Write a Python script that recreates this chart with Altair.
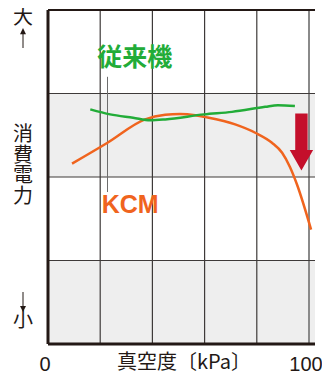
import altair as alt
import pandas as pd

# ---------------- data ----------------
x_tick_values = [0, 100]
x_grid = [20, 40, 60, 80]
x_grid_light = [100]
y_grid = [1, 2, 3]
band_from = [0, 2]
band_to = [1, 3]
X_MAX = 102.3
Y_MAX = 4

green_x = [16.2, 23.8, 32.6, 39.2, 44.9, 59.8, 70.5, 83.2, 88.1, 94.6]
green_y = [2.81, 2.75, 2.71, 2.68, 2.69, 2.75, 2.78, 2.84, 2.86, 2.85]
orange_x = [9.2, 22.8, 37.2, 44.9, 50.6, 56.4, 59.8, 71.7, 79.4, 85.8, 89.7, 92.7, 95.4, 100.8]
orange_y = [2.16, 2.41, 2.69, 2.745, 2.755, 2.74, 2.72, 2.63, 2.53, 2.41, 2.29, 2.12, 1.91, 1.37]

arrow_x = [97.1]
arrow_y = [2.42]
pointer_x = [22.8]
pointer_from = [1.82]
pointer_to = [3.20]

label_green = ["従来機"]
label_green_x = [33.2]
label_green_y = [3.43]
label_orange = ["KCM"]
label_orange_x = [31.5]
label_orange_y = [1.57]

x_title = "真空度〔kPa〕"
y_title = ["消", "費", "電", "力"]
y_high = "大"
y_low = "小"

# ---------------- styling ----------------
INK = "#231815"
GRID = "#3e3a39"
GREEN = "#22ac38"
ORANGE = "#f0641e"
RED = "#c40f2b"
BAND = "#eeeeee"
JP = "Noto Sans CJK JP"
W, H = 267, 334

xs = alt.Scale(domain=[0, X_MAX], nice=False, zero=False)
ys = alt.Scale(domain=[0, Y_MAX], nice=False, zero=False)

one = pd.DataFrame({"k": [0]})

bands = alt.Chart(pd.DataFrame({"y0": band_from, "y1": band_to, "x0": 0, "x1": X_MAX})).mark_rect(
    color=BAND).encode(
    x=alt.X("x0:Q", scale=xs, axis=None), x2="x1:Q",
    y=alt.Y("y0:Q", scale=ys, axis=None), y2="y1:Q")

vgrid = alt.Chart(pd.DataFrame({"x": x_grid, "y0": 0, "y1": Y_MAX})).mark_rule(
    color=GRID, strokeWidth=1.2).encode(
    x=alt.X("x:Q", scale=xs, axis=None), y=alt.Y("y0:Q", scale=ys, axis=None), y2="y1:Q")

vgrid_light = alt.Chart(pd.DataFrame({"x": x_grid_light, "y0": 0, "y1": Y_MAX})).mark_rule(
    color="#8a8a8a", strokeWidth=2).encode(
    x=alt.X("x:Q", scale=xs, axis=None), y=alt.Y("y0:Q", scale=ys, axis=None), y2="y1:Q")

hgrid = alt.Chart(pd.DataFrame({"y": y_grid, "x0": 0, "x1": X_MAX})).mark_rule(
    color=GRID, strokeWidth=1.2).encode(
    y=alt.Y("y:Q", scale=ys, axis=None), x=alt.X("x0:Q", scale=xs, axis=None), x2="x1:Q")

border_h = alt.Chart(pd.DataFrame({"y": [0, Y_MAX], "x0": 0, "x1": X_MAX, "w": [3, 2]})).mark_rule(
    color=INK).encode(
    y=alt.Y("y:Q", scale=ys, axis=None), x=alt.X("x0:Q", scale=xs, axis=None), x2="x1:Q",
    strokeWidth=alt.StrokeWidth("w:Q", scale=None, legend=None))

border_v = alt.Chart(pd.DataFrame({"x": [0], "y0": 0, "y1": Y_MAX})).mark_rule(
    color=INK, strokeWidth=3).encode(
    x=alt.X("x:Q", scale=xs, axis=None), y=alt.Y("y0:Q", scale=ys, axis=None), y2="y1:Q")

pointer = alt.Chart(pd.DataFrame({"x": pointer_x, "y0": pointer_from, "y1": pointer_to})).mark_rule(
    color="#6d6d6d", strokeWidth=1).encode(
    x=alt.X("x:Q", scale=xs, axis=None), y=alt.Y("y0:Q", scale=ys, axis=None), y2="y1:Q")

orange = alt.Chart(pd.DataFrame({"x": orange_x, "y": orange_y})).mark_line(
    color=ORANGE, strokeWidth=2.5, interpolate="monotone").encode(
    x=alt.X("x:Q", scale=xs, axis=None), y=alt.Y("y:Q", scale=ys, axis=None))

green = alt.Chart(pd.DataFrame({"x": green_x, "y": green_y})).mark_line(
    color=GREEN, strokeWidth=2.5, interpolate="monotone").encode(
    x=alt.X("x:Q", scale=xs, axis=None), y=alt.Y("y:Q", scale=ys, axis=None))

ARROW_PATH = "M-0.53,-2.44L0.53,-2.44L0.53,0.68L1,0.68L0,2.44L-1,0.68L-0.53,0.68Z"
red_arrow = alt.Chart(pd.DataFrame({"x": arrow_x, "y": arrow_y})).mark_point(
    shape=ARROW_PATH, size=547, filled=True, color=RED, opacity=1, strokeWidth=0).encode(
    x=alt.X("x:Q", scale=xs, axis=None), y=alt.Y("y:Q", scale=ys, axis=None))

t_green = alt.Chart(pd.DataFrame({"t": label_green, "x": label_green_x, "y": label_green_y})).mark_text(
    font=JP, fontSize=25, fontWeight="bold", color=GREEN, baseline="middle", align="center").encode(
    x=alt.X("x:Q", scale=xs, axis=None), y=alt.Y("y:Q", scale=ys, axis=None), text="t:N")

t_orange = alt.Chart(pd.DataFrame({"t": label_orange, "x": label_orange_x, "y": label_orange_y})).mark_text(
    font="Liberation Sans", fontSize=25, fontWeight="bold", color=ORANGE, baseline="alphabetic",
    align="center").encode(
    x=alt.X("x:Q", scale=xs, axis=None), y=alt.Y("y:Q", scale=ys, axis=None), text="t:N")

# x tick labels, placed through the x scale
t_ticks = alt.Chart(pd.DataFrame({"v": x_tick_values})).mark_text(
    font="Liberation Sans", fontSize=20, color=INK, baseline="alphabetic", align="center",
    dx=-3).encode(
    x=alt.X("v:Q", scale=xs, axis=None), y=alt.value(361), text=alt.Text("v:Q", format="d"))

# outside-plot annotations (pixel positions relative to plot origin)
LX = -25
t_high = alt.Chart(one).mark_text(text=y_high, font=JP, fontSize=20, color=INK,
                                  baseline="middle", align="center").encode(
    x=alt.value(LX), y=alt.value(8))
t_low = alt.Chart(one).mark_text(text=y_low, font=JP, fontSize=20, color=INK,
                                 baseline="middle", align="center").encode(
    x=alt.value(LX), y=alt.value(311))
t_ytitle = alt.Chart(one).mark_text(text=y_title, font=JP, fontSize=20, lineHeight=20.5, color=INK,
                                    baseline="middle", align="center").encode(
    x=alt.value(LX), y=alt.value(125))
t_xtitle = alt.Chart(one).mark_text(text=x_title, font=JP, fontSize=20, color=INK,
                                    baseline="alphabetic", align="center").encode(
    x=alt.value(136), y=alt.value(359))

up_shaft = alt.Chart(one).mark_rule(color=INK, strokeWidth=1).encode(
    x=alt.value(LX), y=alt.value(20), y2=alt.value(38))
up_head = alt.Chart(one).mark_point(shape="M0,-1L0.85,0.75L-0.85,0.75Z", size=49, filled=True,
                                    color=INK, opacity=1, strokeWidth=0).encode(
    x=alt.value(LX), y=alt.value(21.5))
down_shaft = alt.Chart(one).mark_rule(color=INK, strokeWidth=1).encode(
    x=alt.value(LX), y=alt.value(282), y2=alt.value(300))
down_head = alt.Chart(one).mark_point(shape="M0,1L0.85,-0.75L-0.85,-0.75Z", size=49, filled=True,
                                      color=INK, opacity=1, strokeWidth=0).encode(
    x=alt.value(LX), y=alt.value(298.5))

chart = alt.layer(
    bands, vgrid, vgrid_light, hgrid, pointer, orange, green, red_arrow,
    border_h, border_v, t_green, t_orange, t_ticks,
    t_high, t_low, t_ytitle, t_xtitle, up_shaft, up_head, down_shaft, down_head,
).properties(
    width=W, height=H,
    autosize=alt.AutoSizeParams(type="none"),
    padding={"left": 40, "top": 2, "right": 7, "bottom": 30},
    background="white",
).configure_view(stroke=None)

chart.save("out.html", embed_options={"renderer": "svg", "actions": False})
